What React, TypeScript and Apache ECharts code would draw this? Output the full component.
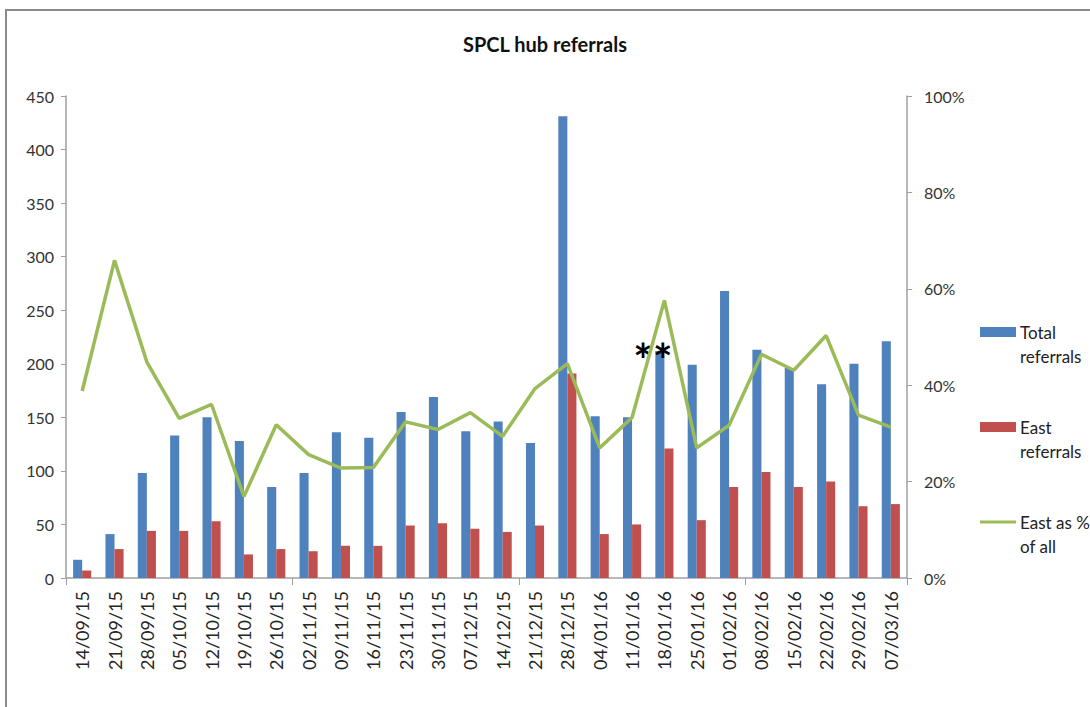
import React, { useEffect, useRef } from "react";
import * as echarts from "echarts";

const categories = [
  "14/09/15", "21/09/15", "28/09/15", "05/10/15", "12/10/15", "19/10/15", "26/10/15",
  "02/11/15", "09/11/15", "16/11/15", "23/11/15", "30/11/15", "07/12/15", "14/12/15",
  "21/12/15", "28/12/15", "04/01/16", "11/01/16", "18/01/16", "25/01/16", "01/02/16",
  "08/02/16", "15/02/16", "22/02/16", "29/02/16", "07/03/16",
];
const totalReferrals = [17, 41, 98, 133, 150, 128, 85, 98, 136, 131, 155, 169, 137, 146, 126, 431, 151, 150, 212, 199, 268, 213, 196, 181, 200, 221];
const eastReferrals = [7, 27, 44, 44, 53, 22, 27, 25, 30, 30, 49, 51, 46, 43, 49, 191, 41, 50, 121, 54, 85, 99, 85, 90, 67, 69];
const eastPct = [0.388, 0.659, 0.448, 0.331, 0.36, 0.169, 0.318, 0.256, 0.228, 0.229, 0.324, 0.308, 0.343, 0.294, 0.393, 0.445, 0.27, 0.333, 0.576, 0.27, 0.317, 0.464, 0.431, 0.503, 0.338, 0.313];
const leftTicks = { min: 0, max: 450, interval: 50 };
const rightTicks = { min: 0, max: 1, interval: 0.2 };
const seriesNames = ["Total\nreferrals", "East\nreferrals", "East as %\nof all"];
const colors = ["#4F81BD", "#C0504D", "#9BBB59"];
const annotation = { category: "18/01/16", value: 212, text: "**" };

const FONT = "Lato, 'Open Sans', sans-serif";

export default function App() {
  const ref = useRef<HTMLDivElement>(null);
  useEffect(() => {
    document.body.style.margin = "0";
    const chart = echarts.init(ref.current!, null, { renderer: "svg" });
    const legendX = 980;
    const legendY = [320, 415, 510];
    const legendGraphics: any[] = [];
    seriesNames.forEach((name, i) => {
      if (i < 2) {
        legendGraphics.push({
          type: "rect",
          shape: { x: legendX, y: legendY[i] + 7, width: 36, height: 10 },
          style: { fill: colors[i] },
        });
      } else {
        legendGraphics.push({
          type: "line",
          shape: { x1: legendX, y1: legendY[i] + 12, x2: legendX + 36, y2: legendY[i] + 12 },
          style: { stroke: colors[i], lineWidth: 3 },
        });
      }
      legendGraphics.push({
        type: "text",
        x: legendX + 40,
        y: legendY[i],
        style: {
          text: name,
          font: `17px ${FONT}`,
          fill: "#222",
          lineHeight: 24,
          verticalAlign: "top",
        },
      });
    });
    chart.setOption({
      animation: false,
      backgroundColor: "#fff",
      title: {
        text: "SPCL hub referrals",
        left: "center",
        top: 29,
        textStyle: { fontFamily: FONT, fontSize: 20, fontWeight: "bold", color: "#111" },
      },
      legend: { show: false },
      graphic: [
        {
          type: "rect",
          shape: { x: 6, y: 10, width: 1200, height: 800 },
          style: { fill: "none", stroke: "#8a8a8a", lineWidth: 2 },
          z: 100,
        },
        ...legendGraphics,
      ],
      grid: { left: 66, right: 183, top: 96, bottom: 129, containLabel: false },
      xAxis: {
        type: "category",
        data: categories,
        axisLine: { lineStyle: { color: "#a0a0a0", width: 1.5 } },
        axisTick: {
          show: true,
          interval: (index: number) => index % 7 === 0,
          length: 7,
          lineStyle: { color: "#a0a0a0" },
        },
        axisLabel: {
          rotate: 90,
          interval: 0,
          margin: 13,
          fontFamily: FONT,
          fontSize: 18,
          color: "#262626",
        },
      },
      yAxis: [
        {
          type: "value",
          ...leftTicks,
          splitLine: { show: false },
          axisLine: { show: true, lineStyle: { color: "#a0a0a0", width: 1.5 } },
          axisTick: { show: true, length: 5, lineStyle: { color: "#a0a0a0" } },
          axisLabel: { fontFamily: FONT, fontSize: 16, color: "#333", margin: 12 },
        },
        {
          type: "value",
          ...rightTicks,
          position: "right",
          splitLine: { show: false },
          axisLine: { show: true, lineStyle: { color: "#a0a0a0", width: 1.5 } },
          axisTick: { show: true, length: 5, lineStyle: { color: "#a0a0a0" } },
          axisLabel: {
            fontFamily: FONT,
            fontSize: 16,
            color: "#333",
            margin: 17,
            formatter: (v: number) => `${Math.round(v * 100)}%`,
          },
        },
      ],
      series: [
        {
          name: seriesNames[0],
          type: "bar",
          data: totalReferrals,
          itemStyle: { color: colors[0] },
          barGap: "0%",
          barCategoryGap: "44%",
          markPoint: {
            symbol: "circle",
            symbolSize: 0,
            data: [{ coord: [annotation.category, annotation.value] }],
            label: {
              show: true,
              formatter: annotation.text,
              position: "inside",
              offset: [-7, 9],
              fontFamily: FONT,
              fontSize: 46,
              fontWeight: "bold",
              color: "#000",
            },
          },
        },
        {
          name: seriesNames[1],
          type: "bar",
          data: eastReferrals,
          itemStyle: { color: colors[1] },
        },
        {
          name: seriesNames[2],
          type: "line",
          yAxisIndex: 1,
          data: eastPct,
          showSymbol: false,
          symbol: "none",
          lineStyle: { color: colors[2], width: 3.5 },
          itemStyle: { color: colors[2] },
          z: 5,
        },
      ],
    });
    return () => chart.dispose();
  }, []);
  return <div ref={ref} style={{ width: 1090, height: 707 }} />;
}
